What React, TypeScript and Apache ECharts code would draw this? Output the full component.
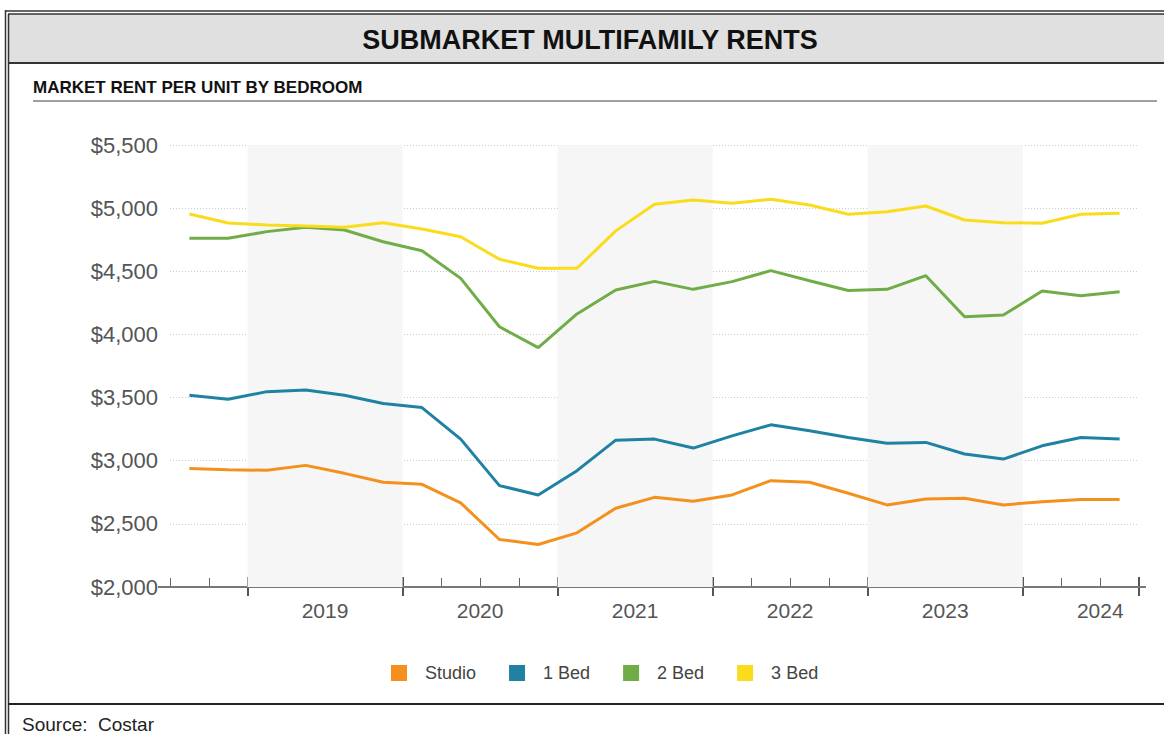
import React, { useEffect, useRef } from 'react';
import * as echarts from 'echarts';

const categories = [
  'Q3 2018', 'Q4 2018',
  'Q1 2019', 'Q2 2019', 'Q3 2019', 'Q4 2019',
  'Q1 2020', 'Q2 2020', 'Q3 2020', 'Q4 2020',
  'Q1 2021', 'Q2 2021', 'Q3 2021', 'Q4 2021',
  'Q1 2022', 'Q2 2022', 'Q3 2022', 'Q4 2022',
  'Q1 2023', 'Q2 2023', 'Q3 2023', 'Q4 2023',
  'Q1 2024', 'Q2 2024', 'Q3 2024',
];
const yearLabels = ['2019', '2020', '2021', '2022', '2023', '2024'];
const shadedYears = ['2019', '2021', '2023'];

const studio = [2939, 2929, 2924, 2963, 2900, 2829, 2813, 2666, 2376, 2337, 2429, 2624, 2710, 2679, 2729, 2842, 2829, 2742, 2650, 2697, 2703, 2650, 2676, 2692, 2692];
const oneBed = [3518, 3487, 3547, 3560, 3518, 3453, 3421, 3171, 2803, 2729, 2921, 3163, 3171, 3100, 3197, 3284, 3237, 3184, 3139, 3145, 3053, 3013, 3118, 3184, 3171];
const twoBed = [4761, 4761, 4814, 4848, 4827, 4734, 4663, 4444, 4061, 3895, 4162, 4352, 4420, 4357, 4418, 4505, 4425, 4348, 4357, 4465, 4140, 4154, 4344, 4307, 4338];
const threeBed = [4954, 4882, 4867, 4859, 4848, 4885, 4835, 4774, 4595, 4524, 4524, 4820, 5030, 5065, 5038, 5070, 5025, 4951, 4972, 5017, 4906, 4885, 4880, 4951, 4960];

const seriesNames = ['Studio', '1 Bed', '2 Bed', '3 Bed'];
const seriesColors = ['#F4911E', '#1F82A3', '#70AD47', '#F9DC1C'];
const yMin = 2000;
const yMax = 5500;
const yStep = 500;

const FONT = '"Liberation Sans", Arial, Helvetica, sans-serif';

export default function App() {
  const ref = useRef<HTMLDivElement>(null);

  useEffect(() => {
    document.body.style.margin = '0';
    if (!ref.current) return;
    const chart = echarts.init(ref.current, undefined, { renderer: 'svg' });

    const bandAreas = shadedYears.map((y) => [
      { xAxis: categories.indexOf('Q1 ' + y) },
      { xAxis: categories.indexOf('Q4 ' + y) + 1 },
    ]);

    const dataSets = [studio, oneBed, twoBed, threeBed];

    const option: any = {
      animation: false,
      backgroundColor: '#ffffff',
      textStyle: { fontFamily: FONT },
      grid: { left: 170, right: 25, top: 145, bottom: 147, containLabel: false },
      legend: {
        data: seriesNames,
        left: 386,
        top: 659,
        itemWidth: 16,
        itemHeight: 16,
        itemGap: 33,
        icon: 'rect',
        textStyle: { fontSize: 18, color: '#444', fontFamily: FONT, padding: [0, 0, 0, 13] },
      },
      xAxis: [
        {
          type: 'category',
          data: categories,
          position: 'bottom',
          boundaryGap: true,
          axisLine: { show: true, onZero: false, lineStyle: { color: '#777', width: 2 } },
          axisTick: { show: true, inside: true, length: 9, interval: 0, lineStyle: { color: '#666', width: 1 } },
          axisLabel: { show: false },
          splitLine: { show: false },
        },
        {
          type: 'category',
          data: categories,
          position: 'bottom',
          boundaryGap: true,
          axisLine: { show: false, onZero: false },
          axisTick: {
            show: true,
            inside: true,
            length: 10,
            interval: (i: number) => (categories[i] || '').startsWith('Q1'),
            lineStyle: { color: '#555', width: 2 },
          },
          axisLabel: { show: false },
          splitLine: { show: false },
        },
        {
          type: 'category',
          data: categories,
          position: 'bottom',
          boundaryGap: true,
          axisLine: { show: false, onZero: false },
          axisTick: {
            show: true,
            inside: false,
            length: 9,
            interval: (i: number) => (categories[i] || '').startsWith('Q1'),
            lineStyle: { color: '#555', width: 2 },
          },
          axisLabel: { show: false },
          splitLine: { show: false },
        },
        {
          type: 'value',
          position: 'bottom',
          min: 0,
          max: categories.length,
          interval: 4,
          axisLine: { show: false, onZero: false },
          axisTick: { show: false },
          splitLine: { show: false },
          axisLabel: {
            show: true,
            margin: 13,
            fontSize: 21,
            color: '#555',
            fontFamily: FONT,
            showMinLabel: true,
            showMaxLabel: true,
            formatter: (v: number) => {
              const c = categories[v];
              if (!c || !c.startsWith('Q3')) return '';
              const y = c.slice(3);
              return yearLabels.includes(y) ? y : '';
            },
          },
        },
      ],
      yAxis: {
        type: 'value',
        min: yMin,
        max: yMax,
        interval: yStep,
        axisLine: { show: false },
        axisTick: { show: false },
        axisLabel: {
          fontSize: 22,
          color: '#555',
          margin: 12,
          fontFamily: FONT,
          formatter: (v: number) => '$' + v.toLocaleString('en-US'),
        },
        splitLine: { show: true, lineStyle: { color: '#cccccc', type: [1, 2], width: 1 } },
      },
      series: [
        {
          name: 'bands',
          type: 'line',
          xAxisIndex: 3,
          data: [],
          silent: true,
          markArea: {
            silent: true,
            itemStyle: { color: '#f6f6f6' },
            data: bandAreas,
          },
          z: 0,
        },
        ...dataSets.map((d, i) => ({
          name: seriesNames[i],
          type: 'line',
          xAxisIndex: 0,
          data: d,
          color: seriesColors[i],
          showSymbol: false,
          symbol: 'none',
          lineStyle: { width: 3, color: seriesColors[i] },
          itemStyle: { color: seriesColors[i] },
          z: 3,
        })),
      ],
      graphic: [
        { type: 'rect', z: 0, shape: { x: 8, y: 14, width: 1156, height: 48 }, style: { fill: '#e0e0e0' } },
        { type: 'line', z: 1, shape: { x1: 5, y1: 11, x2: 1164, y2: 11 }, style: { stroke: '#333', lineWidth: 1.5 } },
        { type: 'line', z: 1, shape: { x1: 8, y1: 14, x2: 1164, y2: 14 }, style: { stroke: '#333', lineWidth: 1.5 } },
        { type: 'line', z: 1, shape: { x1: 5.5, y1: 10, x2: 5.5, y2: 734 }, style: { stroke: '#333', lineWidth: 1.5 } },
        { type: 'line', z: 1, shape: { x1: 8.5, y1: 14, x2: 8.5, y2: 734 }, style: { stroke: '#333', lineWidth: 1.5 } },
        { type: 'line', z: 1, shape: { x1: 8, y1: 63, x2: 1164, y2: 63 }, style: { stroke: '#333', lineWidth: 2 } },
        { type: 'line', z: 1, shape: { x1: 8, y1: 704, x2: 1164, y2: 704 }, style: { stroke: '#222', lineWidth: 2 } },
        { type: 'line', z: 1, shape: { x1: 33, y1: 101, x2: 1157, y2: 101 }, style: { stroke: '#a0a0a0', lineWidth: 2 } },
        { type: 'line', z: 1, shape: { x1: 158, y1: 587, x2: 1146, y2: 587 }, style: { stroke: '#777', lineWidth: 2 } },
        {
          type: 'text', z: 2, x: 590, y: 40,
          style: { text: 'SUBMARKET MULTIFAMILY RENTS', fill: '#111', fontSize: 27, fontWeight: 'bold', fontFamily: FONT, align: 'center', verticalAlign: 'middle' },
        },
        {
          type: 'text', z: 2, x: 33, y: 87,
          style: { text: 'MARKET RENT PER UNIT BY BEDROOM', fill: '#111', fontSize: 17, fontWeight: 'bold', fontFamily: FONT, align: 'left', verticalAlign: 'middle' },
        },
        {
          type: 'text', z: 2, x: 22, y: 724,
          style: { text: 'Source:  Costar', fill: '#222', fontSize: 19, fontFamily: FONT, align: 'left', verticalAlign: 'middle' },
        },
      ],
    };

    chart.setOption(option);
    return () => chart.dispose();
  }, []);

  return <div ref={ref} style={{ width: 1164, height: 734 }} />;
}
